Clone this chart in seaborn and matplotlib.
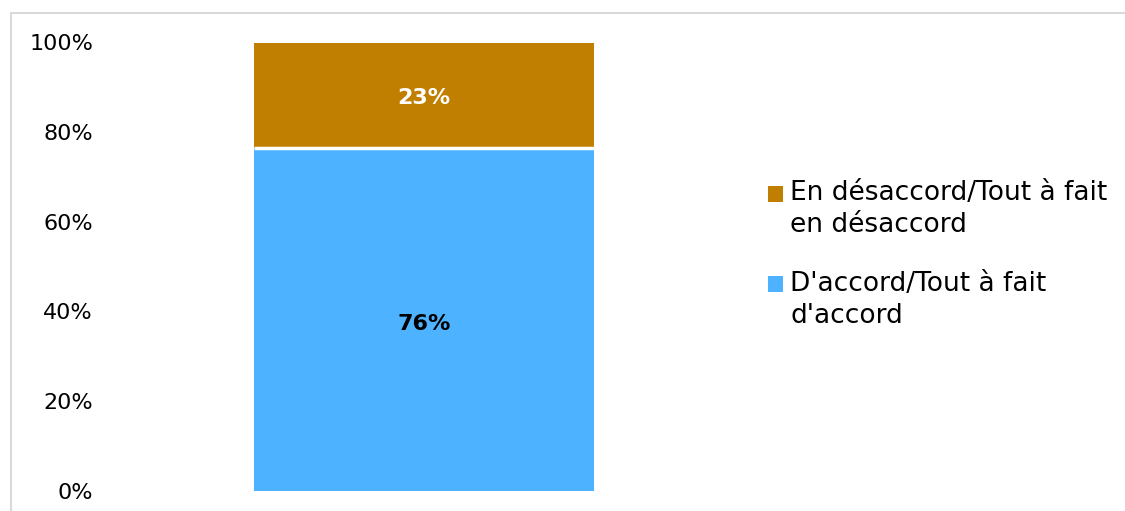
import matplotlib
matplotlib.use("Agg")
import matplotlib.pyplot as plt
import seaborn as sns
import pandas as pd
from matplotlib.patches import Patch, Rectangle
from matplotlib.legend_handler import HandlerPatch
from matplotlib.lines import Line2D

# ---- data ----
categories = [""]
agree = [76.4]        # D'accord/Tout à fait d'accord
disagree = [23.4]     # En désaccord/Tout à fait en désaccord
series_labels = ["En désaccord/Tout à fait\nen désaccord", "D'accord/Tout à fait\nd'accord"]
yticks = [0, 20, 40, 60, 80, 100]
ytick_labels = ["0%", "20%", "40%", "60%", "80%", "100%"]

COL_DIS = "#C07F00"
COL_AGR = "#4DB2FF"

sns.set_theme(style="white")
plt.rcParams["font.family"] = ["DejaVu Sans"]

W, H = 1125, 511
fig = plt.figure(figsize=(W / 100, H / 100), dpi=100)
ax_left = 112.5 / W
ax_right = 735.5 / W
ax_bottom = 1 - 491 / H
ax_top = 1 - 42 / H
ax = fig.add_axes([ax_left, ax_bottom, ax_right - ax_left, ax_top - ax_bottom])

df = pd.DataFrame({"cat": categories, "agree": agree, "disagree": disagree})
df["total"] = df["agree"] + df["disagree"]

bw = 340 / 623
sns.barplot(data=df, x="cat", y="total", color=COL_DIS, width=bw, ax=ax,
            saturation=1, linewidth=0)
sns.barplot(data=df, x="cat", y="agree", color=COL_AGR, width=bw, ax=ax,
            saturation=1, linewidth=0)
# white separator between the two segments
for i, a in enumerate(agree):
    ax.hlines(a, i - bw / 2, i + bw / 2, colors="white", linewidth=2.5, zorder=5)

# labels
for i, (a, d) in enumerate(zip(agree, disagree)):
    ax.annotate(f"{round(a)}%", (i, a / 2), xytext=(0, -3), textcoords="offset points",
                ha="center", va="center", fontsize=16, fontweight="bold", color="black")
    ax.annotate(f"{round(d)}%", (i, a + d / 2), xytext=(0, -2), textcoords="offset points",
                ha="center", va="center", fontsize=16, fontweight="bold", color="white")

ax.set_xlim(-0.5, 0.5)
ax.set_ylim(0, 100)
ax.set_yticks(yticks)
ax.set_yticklabels(ytick_labels)
ax.tick_params(axis="y", length=0, pad=14, labelsize=16, labelcolor="#000000")
ax.set_xticks([])
ax.set_xlabel("")
ax.set_ylabel("")
for s in ax.spines.values():
    s.set_visible(False)


class TopSquareHandler(HandlerPatch):
    def __init__(self, shift, **kw):
        super().__init__(**kw)
        self.shift = shift

    def create_artists(self, legend, orig_handle, xdescent, ydescent, width, height, fontsize, trans):
        p = Rectangle((-xdescent, -ydescent + self.shift), width, height,
                      facecolor=orig_handle.get_facecolor(), edgecolor="none", transform=trans)
        return [p]


fs = 19
lsp = 1.32
handles = [Patch(facecolor=COL_DIS), Patch(facecolor=COL_AGR)]
shift = 0.5 * lsp * fs * 0.93
leg = fig.legend(handles, series_labels, loc="upper left",
                 bbox_to_anchor=(768 / W, 1 - 180 / H), frameon=False,
                 fontsize=fs, handlelength=0.57, handleheight=0.57,
                 handletextpad=0.27, borderpad=0, borderaxespad=0,
                 labelspacing=1.22,
                 handler_map={Patch: TopSquareHandler(shift)})
for t in leg.get_texts():
    t.set_linespacing(lsp)
    t.set_color("#000000")

# chart frame lines (top and left)
fig.add_artist(Line2D([11 / W, 1.0], [1 - 13 / H, 1 - 13 / H], color="#D9D9D9", lw=1.5,
                      transform=fig.transFigure))
fig.add_artist(Line2D([11 / W, 11 / W], [0, 1 - 13 / H], color="#D9D9D9", lw=1.5,
                      transform=fig.transFigure))

fig.savefig("out.png", dpi=100, facecolor="white")
